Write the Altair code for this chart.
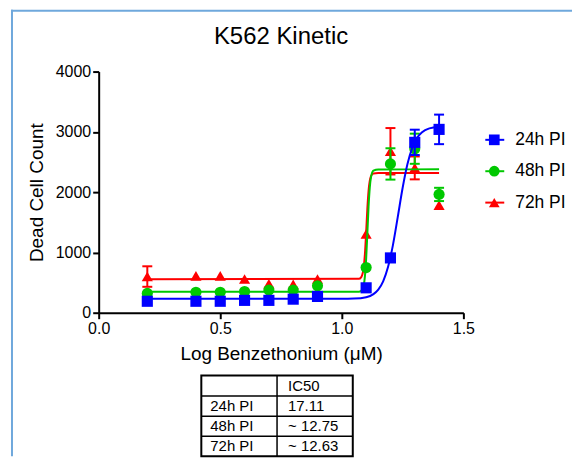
import altair as alt
import pandas as pd

FONT = "Liberation Sans"

# ---------------- data ----------------
series = ["24h PI", "48h PI", "72h PI"]
colors = ["#0000FF", "#00C800", "#FF0000"]
shapes = ["square", "circle", "triangle-up"]

x_vals = [0.2, 0.4, 0.5, 0.6, 0.7, 0.8, 0.9, 1.1, 1.2, 1.3, 1.4]

y_24 = [190, 190, 190, 205, 205, 225, 270, 413, 909, 2826, 3041]
err_24 = [0, 0, 0, 0, 0, 0, 0, 0, 60, 210, 245]
y_48 = [320, 340, 340, 352, 375, 375, 446, 749, 2468, 2720, 1962]
err_48 = [0, 0, 0, 0, 0, 0, 0, 0, 260, 250, 110]
y_72 = [600, 610, 610, 560, 480, 470, 560, 1306, 2678, 2402, 1785]
err_72 = [170, 0, 0, 0, 0, 0, 0, 0, 385, 190, 0]

# fitted curves
fit_x_24 = [0.2, 1.0, 1.05, 1.1, 1.13, 1.15, 1.17, 1.19, 1.21, 1.23, 1.25, 1.27, 1.29, 1.31, 1.33, 1.36, 1.4]
fit_y_24 = [230, 231, 235, 258, 309, 383, 520, 757, 1118, 1585, 2068, 2466, 2740, 2905, 2995, 3057, 3083]
fit_x_48 = [0.2, 1.07, 1.08, 1.09, 1.095, 1.1, 1.105, 1.11, 1.115, 1.12, 1.13, 1.15, 1.4]
fit_y_48 = [347, 349, 365, 457, 603, 889, 1316, 1760, 2076, 2246, 2355, 2377, 2378]
fit_x_72 = [0.2, 1.07, 1.08, 1.09, 1.095, 1.1, 1.105, 1.11, 1.12, 1.13, 1.15, 1.4]
fit_y_72 = [557, 562, 591, 751, 973, 1327, 1724, 2020, 2265, 2310, 2318, 2319]

chart_title = "K562 Kinetic"
table_header = ["", "IC50"]
ic50_text = ["17.11", "~ 12.75", "~ 12.63"]

x_ticks = [0, 0.5, 1.0, 1.5]
y_ticks = [0, 1000, 2000, 3000, 4000]

# ---------------- layout constants (pixels) ----------------
W, H = 366, 242
BORDER_COLOR = "#6FA8DC"

ys_list = [y_24, y_48, y_72]
es_list = [err_24, err_48, err_72]
fx_list = [fit_x_24, fit_x_48, fit_x_72]
fy_list = [fit_y_24, fit_y_48, fit_y_72]

xscale = alt.Scale(domain=[0, 1.5], nice=False, zero=False)
yscale = alt.Scale(domain=[0, 4000], nice=False)
xaxis = alt.Axis(values=x_ticks, format=".1f", title="Log Benzethonium (μM)",
                 labelFlush=False, labelOverlap=False)
yaxis = alt.Axis(values=y_ticks, format="d", title="Dead Cell Count",
                 labelOverlap=False)


def X(f):
    return alt.X(f"{f}:Q", scale=xscale, axis=xaxis)


def Y(f):
    return alt.Y(f"{f}:Q", scale=yscale, axis=yaxis)


one = pd.DataFrame({"a": [0]})
layers = []

# frame lines (top and left)
layers.append(alt.Chart(one).mark_rule(color=BORDER_COLOR, strokeWidth=2).encode(
    x=alt.value(-88), x2=alt.value(475), y=alt.value(-61)))
layers.append(alt.Chart(one).mark_rule(color=BORDER_COLOR, strokeWidth=2).encode(
    x=alt.value(-87), y=alt.value(-62), y2=alt.value(386)))

# chart title
layers.append(alt.Chart(pd.DataFrame({"t": [chart_title]}))
              .mark_text(align="center", baseline="alphabetic", font=FONT, fontSize=24, color="black")
              .encode(x=alt.value(W / 2), y=alt.value(-28), text="t:N"))

# draw 72h first, 24h last (24h on top)
for i in [2, 1, 0]:
    c, shp = colors[i], shapes[i]
    fit = pd.DataFrame({"x": fx_list[i], "y": fy_list[i]})
    pts = pd.DataFrame({"x": x_vals, "y": ys_list[i], "e": es_list[i]})
    pts["lo"] = pts["y"] - pts["e"]
    pts["hi"] = pts["y"] + pts["e"]
    errs = pts[pts["e"] > 0]
    layers.append(alt.Chart(fit).mark_line(color=c, strokeWidth=2, interpolate="monotone")
                  .encode(x=X("x"), y=Y("y")))
    layers.append(alt.Chart(errs).mark_rule(color=c, strokeWidth=2)
                  .encode(x=X("x"), y=Y("lo"), y2="hi:Q"))
    layers.append(alt.Chart(errs).mark_tick(color=c, orient="horizontal", size=10, thickness=2, opacity=1)
                  .encode(x=X("x"), y=Y("lo")))
    layers.append(alt.Chart(errs).mark_tick(color=c, orient="horizontal", size=10, thickness=2, opacity=1)
                  .encode(x=X("x"), y=Y("hi")))
    layers.append(alt.Chart(pts).mark_point(filled=True, opacity=1, color=c, shape=shp, size=125)
                  .encode(x=X("x"), y=Y("y")))

# manual legend
LEG_Y = [68.5, 100, 131.5]
for i, name in enumerate(series):
    d = pd.DataFrame({"t": [name]})
    layers.append(alt.Chart(d).mark_rule(color=colors[i], strokeWidth=2).encode(
        x=alt.value(388), x2=alt.value(407), y=alt.value(LEG_Y[i])))
    layers.append(alt.Chart(d).mark_point(filled=True, opacity=1, color=colors[i], shape=shapes[i], size=115)
                  .encode(x=alt.value(397), y=alt.value(LEG_Y[i])))
    layers.append(alt.Chart(d).mark_text(align="left", baseline="middle", font=FONT, fontSize=17.5, color="black")
                  .encode(x=alt.value(418), y=alt.value(LEG_Y[i]), text="t:N"))

# IC50 table
T_L, T_R, T_C = 103, 255, 179
T_ROWS = [305, 325.5, 346, 366, 386]
layers.append(alt.Chart(one).mark_rect(fillOpacity=0, stroke="black", strokeWidth=2).encode(
    x=alt.value(T_L), x2=alt.value(T_R), y=alt.value(T_ROWS[0]), y2=alt.value(T_ROWS[-1])))
for ry in T_ROWS[1:-1]:
    layers.append(alt.Chart(one).mark_rule(color="black", strokeWidth=1.5).encode(
        x=alt.value(T_L), x2=alt.value(T_R), y=alt.value(ry)))
layers.append(alt.Chart(one).mark_rule(color="black", strokeWidth=1.5).encode(
    x=alt.value(T_C), y=alt.value(T_ROWS[0]), y2=alt.value(T_ROWS[-1])))

table_rows = [table_header] + [[s, v] for s, v in zip(series, ic50_text)]
for r, row in enumerate(table_rows):
    cy = (T_ROWS[r] + T_ROWS[r + 1]) / 2
    for cidx, txt in enumerate(row):
        if not txt:
            continue
        cx = T_L + 9 if cidx == 0 else T_C + 11
        layers.append(alt.Chart(pd.DataFrame({"t": [txt]}))
                      .mark_text(align="left", baseline="middle", font=FONT, fontSize=15, color="black")
                      .encode(x=alt.value(cx), y=alt.value(cy), text="t:N"))

chart = alt.layer(*layers).properties(
    width=W, height=H,
    padding={"left": 2, "top": 0, "right": 0, "bottom": 0},
).configure_view(strokeWidth=0).configure_axis(
    grid=False, domainColor="black", domainWidth=2, tickColor="black", tickWidth=2, tickSize=6,
    labelColor="black", labelFont=FONT, labelFontSize=16, labelPadding=2,
    titleColor="black", titleFont=FONT, titleFontSize=19, titleFontWeight="normal",
).configure_axisY(titlePadding=9).configure_axisX(titlePadding=8)

chart.save("out.html", embed_options={"renderer": "svg", "actions": False})
